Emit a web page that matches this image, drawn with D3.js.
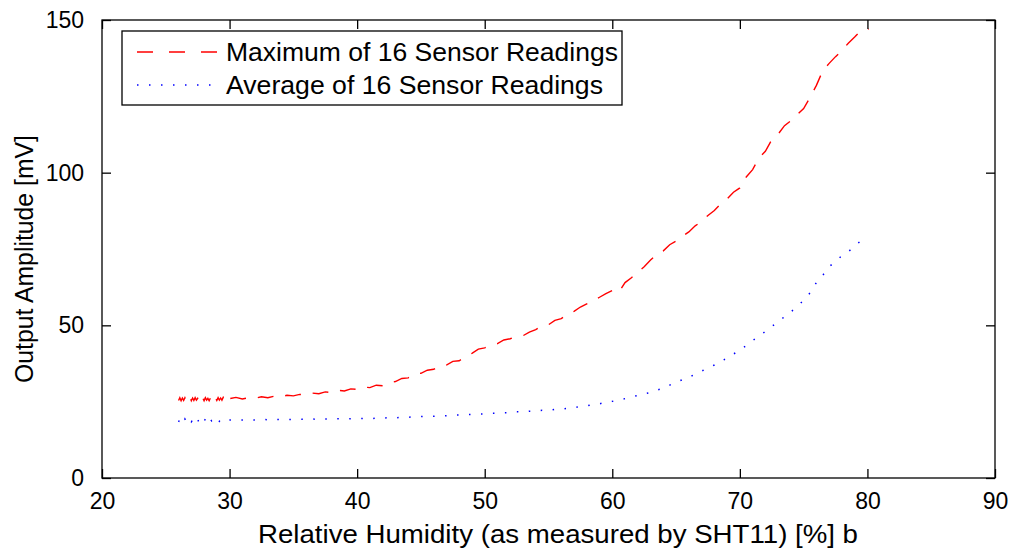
<!DOCTYPE html>
<html><head><meta charset="utf-8">
<script src="https://cdn.jsdelivr.net/npm/d3@7"></script>
<style>body{margin:0;background:#fff}svg{display:block}text{font-family:"Liberation Sans",Arial,sans-serif;fill:#000}</style>
</head><body>
<svg id="c" width="1013" height="550"></svg>
<script>
// ---- data ----
const xTicks = [20,30,40,50,60,70,80,90];
const yTicks = [0,50,100,150];
const seriesNames = ["Maximum of 16 Sensor Readings","Average of 16 Sensor Readings"];
const xTitle = "Relative Humidity (as measured by SHT11) [%] b";
const yTitle = "Output Amplitude [mV]";

const maxX = [26.0,26.1,26.2,26.3,26.4,26.5,26.6,26.7,26.8,26.9,27.0,27.1,27.2,27.3,27.4,27.5,27.6,27.7,27.8,27.9,
28.0,28.1,28.2,28.3,28.4,28.5,28.6,28.7,28.8,28.9,29.0,29.1,29.2,29.3,29.4,29.5,29.6,29.7,29.8,29.9,
30.0,30.5,31.0,31.5,32.0,32.5,33.0,33.5,34.0,34.5,35.0,35.5,36.0,36.5,37.0,37.5,38.0,38.5,39.0,39.5,
40.0,40.5,41.0,41.5,42.0,42.5,43.0,43.5,44.0,44.5,45.0,45.5,46.0,46.5,47.0,47.5,48.0,48.5,49.0,49.5,
50.0,50.5,51.0,51.5,52.0,52.5,53.0,53.5,54.0,54.5,55.0,55.5,56.0,56.5,57.0,57.5,58.0,58.5,59.0,59.5,
60.0,60.5,61.0,61.5,62.0,62.5,63.0,63.5,64.0,64.5,65.0,65.5,66.0,66.5,67.0,67.5,68.0,68.5,69.0,69.5,
70.0,70.5,71.0,71.5,72.0,72.5,73.0,73.5,74.0,74.5,75.0,75.5,76.0,76.5,77.0,77.5,78.0,78.5,79.0,79.5,80.0,80.1];
const maxY = [25.4,26.3,25.3,26.2,25.4,26.3,25.3,26.1,25.5,26.3,25.3,26.2,25.4,26.3,25.5,26.1,25.3,26.3,25.4,26.2,
25.3,26.3,25.5,26.1,25.3,26.2,25.4,26.3,25.6,26.2,25.4,26.3,25.5,26.2,25.5,26.4,25.5,26.3,25.6,26.2,
26.0,26.4,25.9,26.3,26.1,26.6,26.3,26.8,26.5,27.1,26.9,27.4,27.2,27.8,27.6,28.2,28.0,28.7,28.5,29.2,
29.0,29.8,29.6,30.4,30.2,31.2,31.6,32.6,32.8,34.0,34.3,35.3,35.6,36.8,37.0,38.2,38.4,39.8,40.8,42.2,
42.6,43.6,44.0,45.2,45.6,46.4,46.6,47.8,48.6,49.8,50.2,51.6,52.2,53.6,54.6,56.0,57.0,58.0,59.2,60.4,
61.4,60.8,64.0,65.6,67.4,69.2,71.4,73.2,74.4,76.4,77.6,79.2,80.6,82.6,84.0,86.0,87.6,89.8,91.4,93.6,
95.0,98.6,101.0,104.8,107.0,110.8,112.6,115.4,117.0,119.0,121.0,124.6,128.6,133.4,135.8,138.0,140.0,142.4,144.4,146.6,147.0,147.0];

const avgX = [26.0,26.1,26.2,26.3,26.4,26.5,26.6,26.7,26.8,26.9,27.0,27.1,27.2,27.3,27.4,27.5,27.6,27.7,27.8,27.9,
28.0,28.1,28.2,28.3,28.4,28.5,28.6,28.7,28.8,28.9,29.0,29.1,29.2,29.3,29.4,29.5,
30.0,30.5,31.0,31.5,32.0,32.5,33.0,33.5,34.0,34.5,35.0,35.5,36.0,36.5,37.0,37.5,38.0,38.5,39.0,39.5,
40.0,40.5,41.0,41.5,42.0,42.5,43.0,43.5,44.0,44.5,45.0,45.5,46.0,46.5,47.0,47.5,48.0,48.5,49.0,49.5,
50.0,50.5,51.0,51.5,52.0,52.5,53.0,53.5,54.0,54.5,55.0,55.5,56.0,56.5,57.0,57.5,58.0,58.5,59.0,59.5,
60.0,60.5,61.0,61.5,62.0,62.5,63.0,63.5,64.0,64.5,65.0,65.5,66.0,66.5,67.0,67.5,68.0,68.5,69.0,69.5,
70.0,70.5,71.0,71.5,72.0,72.5,73.0,73.5,74.0,74.5,75.0,75.5,76.0,76.5,77.0,77.5,78.0,78.5,79.0,79.5,79.7,80.1];
const avgY = [18.4,19.2,18.6,19.0,18.3,19.3,18.5,19.1,18.7,19.2,18.4,19.0,18.6,19.3,18.5,19.1,18.3,19.2,18.7,19.0,
18.5,19.3,18.6,19.1,18.4,19.2,18.7,19.0,18.5,19.2,18.8,19.1,18.6,19.2,18.9,18.9,
19.0,19.1,19.0,19.1,19.0,19.2,19.1,19.2,19.1,19.2,19.2,19.3,19.2,19.3,19.2,19.3,19.3,19.4,19.3,19.4,
19.4,19.5,19.4,19.6,19.6,19.8,19.7,19.9,19.9,20.1,20.1,20.3,20.2,20.4,20.4,20.6,20.6,20.8,20.8,21.0,
21.0,21.2,21.2,21.4,21.4,21.7,21.6,21.9,21.9,22.2,22.1,22.5,22.5,22.9,23.0,23.5,23.6,24.1,24.3,24.8,
25.1,25.6,26.0,26.6,27.0,27.6,28.0,28.8,29.4,30.4,31.4,32.2,33.0,34.0,35.0,36.0,37.0,38.2,39.2,40.6,
41.8,43.4,45.0,46.4,48.0,49.6,51.2,52.8,54.4,56.2,58.2,60.6,64.0,66.4,69.2,71.0,72.8,74.0,76.2,77.6,78.0,77.3];

// ---- layout ----
const L = 102, R = 995, T = 20, B = 478;
const FONT = '"Liberation Sans",Arial,sans-serif';
const svg = d3.select("#c");
const x = d3.scaleLinear().domain([20,90]).range([L,R]);
const y = d3.scaleLinear().domain([0,150]).range([B,T]);

const line = d3.line().x(d=>x(d[0])).y(d=>y(d[1]));
const maxData = maxX.map((v,i)=>[v,maxY[i]]);
const avgData = avgX.map((v,i)=>[v,avgY[i]]);

svg.append("path").attr("d", line(maxData)).attr("fill","none")
  .attr("stroke","#ff0000").attr("stroke-width",1.4).attr("stroke-dasharray","16,12");
svg.append("path").attr("d", line(avgData)).attr("fill","none")
  .attr("stroke","#0000ff").attr("stroke-width",1.5).attr("stroke-dasharray","1.5,10.5");

// axes box
const fs = "23px";
const ax = svg.append("g");
ax.append("rect").attr("x",L).attr("y",T).attr("width",R-L).attr("height",B-T)
  .attr("fill","none").attr("stroke","#000").attr("stroke-width",1.3);

const xb = ax.append("g").attr("transform",`translate(0,${B})`)
  .call(d3.axisBottom(x).tickValues(xTicks).tickSize(-9).tickPadding(15).tickFormat(d3.format("d")));
const xt = ax.append("g").attr("transform",`translate(0,${T})`)
  .call(d3.axisTop(x).tickValues(xTicks).tickSize(-9).tickFormat(""));
const yl = ax.append("g").attr("transform",`translate(${L},0)`)
  .call(d3.axisLeft(y).tickValues(yTicks).tickSize(-9).tickPadding(18).tickFormat(d3.format("d")));
const yr = ax.append("g").attr("transform",`translate(${R},0)`)
  .call(d3.axisRight(y).tickValues(yTicks).tickSize(-9).tickFormat(""));
[xb,xt,yl,yr].forEach(g=>{
  g.select(".domain").remove();
  g.selectAll(".tick line").attr("stroke","#000").attr("stroke-width",1.3);
  g.selectAll("text").style("font-size",fs).style("font-family",FONT);
});
xb.selectAll("text").attr("dy","0.71em");

svg.append("text").attr("x",258).attr("y",543)
  .attr("textLength",600).attr("lengthAdjust","spacingAndGlyphs")
  .style("font-size","25px").text(xTitle);
svg.append("text").attr("transform",`translate(33,383) rotate(-90)`)
  .attr("textLength",248).attr("lengthAdjust","spacingAndGlyphs")
  .style("font-size","25px").text(yTitle);

// legend
const lg = svg.append("g");
lg.append("rect").attr("x",122).attr("y",31).attr("width",500).attr("height",74)
  .attr("fill","#fff").attr("stroke","#000").attr("stroke-width",1.3);
const legendItems = [
  {name:seriesNames[0], color:"#ff0000", dash:"16,16", w:1.4, yy:52, tl:392},
  {name:seriesNames[1], color:"#0000ff", dash:"1.5,10.5", w:1.5, yy:85, tl:377}
];
legendItems.forEach(it=>{
  lg.append("line").attr("x1",137).attr("x2",218).attr("y1",it.yy).attr("y2",it.yy)
    .attr("stroke",it.color).attr("stroke-width",it.w).attr("stroke-dasharray",it.dash);
  lg.append("text").attr("x",226).attr("y",it.yy+9)
    .attr("textLength",it.tl).attr("lengthAdjust","spacingAndGlyphs")
    .style("font-size","25px").text(it.name);
});
</script>
</body></html>
